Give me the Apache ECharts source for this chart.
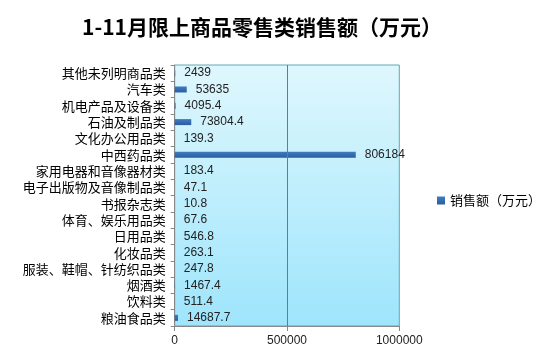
<!DOCTYPE html>
<html><head><meta charset="utf-8">
<script src="https://cdn.jsdelivr.net/npm/echarts@6/dist/echarts.min.js"></script>
<style>html,body{margin:0;padding:0;background:#fff}#c{width:554px;height:364px}</style>
</head><body><div id="c"></div>
<script>
var title = '1-11月限上商品零售类销售额（万元）';
var seriesName = '销售额（万元）';
var categories = ['其他未列明商品类','汽车类','机电产品及设备类','石油及制品类','文化办公用品类','中西药品类','家用电器和音像器材类','电子出版物及音像制品类','书报杂志类','体育、娱乐用品类','日用品类','化妆品类','服装、鞋帽、针纺织品类','烟酒类','饮料类','粮油食品类'];
var values = [2439,53635,4095.4,73804.4,139.3,806184,183.4,47.1,10.8,67.6,546.8,263.1,247.8,1467.4,511.4,14687.7];
var xTicks = [0, 500000, 1000000];

var chart = echarts.init(document.getElementById('c'));
chart.setOption({
  animation: false,
  title: {text: title, left: 257, textAlign: 'center', top: 12,
    textStyle: {fontFamily: 'Noto Sans CJK SC', fontWeight: 'bold', fontSize: 21, color: '#000'}},
  legend: {data: [seriesName], left: 432, top: 189, icon: 'rect', itemWidth: 8, itemHeight: 8, itemGap: 5,
    textStyle: {fontFamily: 'Noto Sans CJK SC', fontSize: 13, color: '#000'}},
  grid: {left: 174.7, right: 154.7, top: 65, bottom: 38, show: true, borderColor: '#5fa8b8', borderWidth: 1,
    backgroundColor: new echarts.graphic.LinearGradient(0,0,0,1,[{offset:0,color:'#dff7fd'},{offset:1,color:'#9ee5fc'}])},
  xAxis: {type: 'value', min: xTicks[0], max: xTicks[2], interval: xTicks[1]-xTicks[0],
    axisLine: {show: true, lineStyle: {color: '#888'}},
    axisTick: {show: true, length: 5, lineStyle: {color: '#888'}},
    splitLine: {show: false},
    axisLabel: {margin: 9, fontFamily: 'Liberation Sans', fontSize: 12, color: '#222', formatter: function(v){return String(v);}}},
  yAxis: {type: 'category', data: categories, inverse: true,
    axisLine: {show: true, lineStyle: {color: '#888'}},
    axisTick: {show: true, length: 4, interval: 0, lineStyle: {color: '#888'}},
    axisLabel: {margin: 9, interval: 0, fontFamily: 'Noto Sans CJK SC', fontSize: 13, color: '#000'}},
  series: [{name: seriesName, type: 'bar', data: values, barWidth: 6,
    itemStyle: {color: new echarts.graphic.LinearGradient(0,0,0,1,[{offset:0,color:'#3f7cc2'},{offset:1,color:'#2a5d9e'}])},
    label: {show: true, position: 'right', distance: 9, fontFamily: 'Liberation Sans', fontSize: 12, color: '#222'},
    markLine: {silent: true, symbol: 'none', label: {show: false}, lineStyle: {color: '#777', type: 'solid', width: 1},
      data: [{xAxis: xTicks[1]}]}
  }]
});
</script></body></html>
